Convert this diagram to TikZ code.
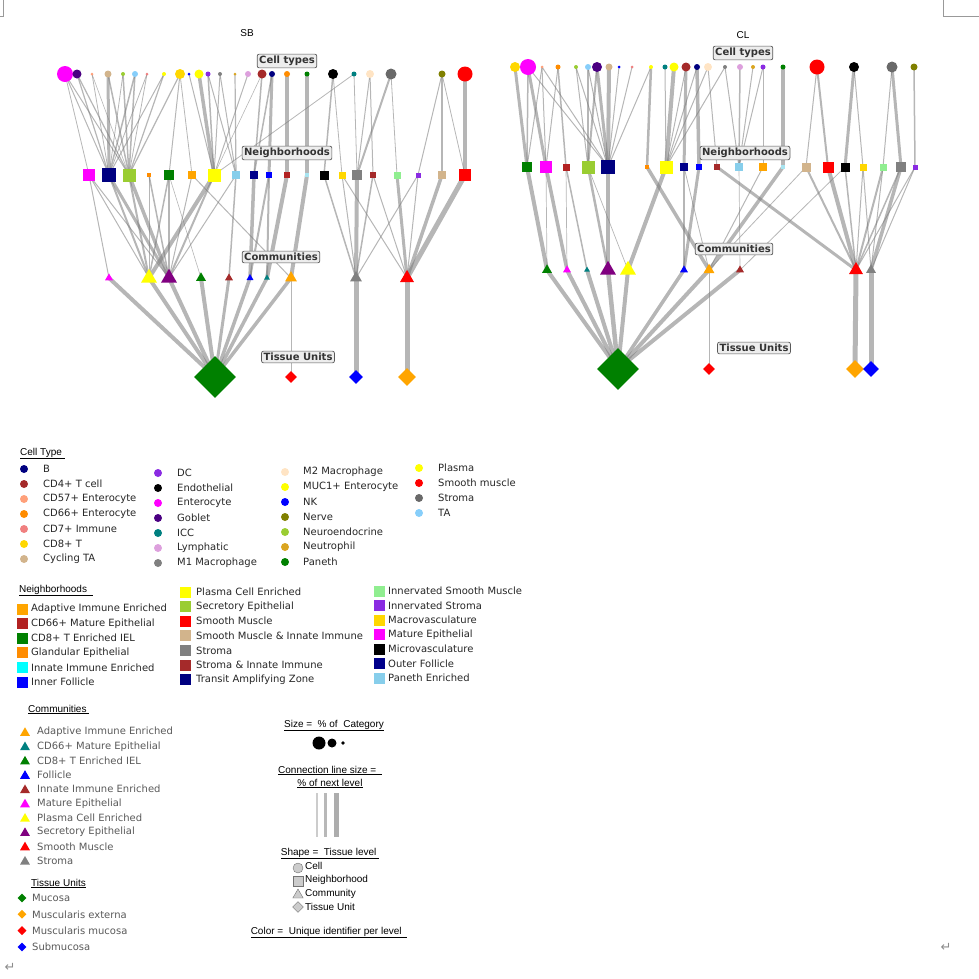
\documentclass[tikz,border=0pt]{standalone}
\usepackage{fontspec}
\setmainfont{DejaVu Sans}
\newfontfamily\headfont{Liberation Sans}
\usetikzlibrary{shapes.geometric,backgrounds}

\definecolor{Navy}{HTML}{000080}
\definecolor{Indigo}{HTML}{4B0082}
\definecolor{LightSalmon}{HTML}{FFA07A}
\definecolor{Tan}{HTML}{D2B48C}
\definecolor{YellowGreen}{HTML}{9ACD32}
\definecolor{LightSkyBlue}{HTML}{87CEFA}
\definecolor{LightCoral}{HTML}{F08080}
\definecolor{Gold}{HTML}{FFD700}
\definecolor{Yellow}{HTML}{FFFF00}
\definecolor{Blue}{HTML}{0000FF}
\definecolor{BlueViolet}{HTML}{8A2BE2}
\definecolor{Gray}{HTML}{808080}
\definecolor{GoldRod}{HTML}{DAA520}
\definecolor{Plum}{HTML}{DDA0DD}
\definecolor{Brown}{HTML}{A52A2A}
\definecolor{DarkOrange}{HTML}{FF8C00}
\definecolor{Green}{HTML}{008000}
\definecolor{Black}{HTML}{000000}
\definecolor{Teal}{HTML}{008080}
\definecolor{Bisque}{HTML}{FFE4C4}
\definecolor{DimGray}{HTML}{696969}
\definecolor{Olive}{HTML}{808000}
\definecolor{Red}{HTML}{FF0000}
\definecolor{Magenta}{HTML}{FF00FF}
\definecolor{Orange}{HTML}{FFA500}
\definecolor{SkyBlue}{HTML}{87CEEB}
\definecolor{DarkBlue}{HTML}{00008B}
\definecolor{FireBrick}{HTML}{B22222}
\definecolor{Cyan}{HTML}{00FFFF}
\definecolor{PaleCyan}{HTML}{A8E4F0}
\definecolor{LightGreen}{HTML}{90EE90}
\definecolor{Purple}{HTML}{800080}

\begin{document}
\begin{tikzpicture}[
  x=1pt, y=-1pt,
  font=\fontsize{10}{12}\selectfont,
  cellnode/.style={circle, inner sep=0pt, minimum size={2*#1 pt}},
  hoodnode/.style={rectangle, inner sep=0pt, minimum size={2*#1 pt}},
  commnode/.style={regular polygon, regular polygon sides=3, inner sep=0pt, minimum size={2.3*#1 pt}},
  unitnode/.style={diamond, inner sep=0pt, minimum size={2*#1 pt}},
  link/.style={draw=black!52, opacity=0.55},
  lvlbox/.style={draw=black!65, fill=black!7, rounded corners=2pt, line width=0.7pt,
    font=\fontsize{10}{12}\selectfont\bfseries, text=black!80, inner sep=2pt},
  headtxt/.style={font=\headfont\fontsize{10}{12}\selectfont, inner sep=0pt},
  legtxt/.style={anchor=west, inner sep=0pt, text=black!85},
  legdot/.style={circle, inner sep=0pt, minimum size=8pt},
  legbox/.style={rectangle, inner sep=0pt, minimum size=11pt},
  shapekey/.style={fill=black!20, draw=black!55, inner sep=0pt}
]
  \useasboundingbox (0,0) rectangle (979,978);

  % page marks
  \draw[black!40] (3,0) -- (3,16) -- (0,16);
  \draw[black!40] (943,0) -- (943,16) -- (979,16);
  \node[text=black!45, font=\fontsize{13}{14}\selectfont] (mark-l) at (10,967) {↵};
  \node[text=black!45, font=\fontsize{13}{14}\selectfont] (mark-r) at (946,947) {↵};

  % ---------------- SB tree ----------------
  \node[headtxt] (sb-title) at (247,33) {SB};
  \foreach \n/\x/\r/\c in {ent/65/8/Magenta, gob/77/4.5/Indigo, c57/92/1.5/LightSalmon,
      cyc/108/3.5/Tan, neu/123/2/YellowGreen, ta/135/3/LightSkyBlue, c7/147/1.5/LightCoral,
      muc/164/2/Yellow, cd8/180/5/Gold, nk/189/1.5/Blue, pla/199/4.5/Yellow,
      dc/208/2.5/BlueViolet, m1/220/2/Gray, nph/235/1.5/GoldRod, lym/248/3/Plum,
      cd4/262/4.5/Brown, b/272/3/Navy, c66/287/3/DarkOrange, pan/307/2.5/Green,
      endo/333/5/Black, icc/354/2.5/Teal, m2/370/4/Bisque, str/391/5.5/DimGray,
      nrv/442/3.5/Olive, smc/465/7.5/Red}
    \node[cellnode=\r, fill=\c] (sbc-\n) at (\x,74) {};
  \foreach \n/\x/\r/\c in {mat/89/6/Magenta, taz/109/7/Navy, sec/129/6.5/YellowGreen,
      gla/149/2/DarkOrange, iel/169/5/Green, adp/192/4/Orange, pce/214/6.5/Yellow,
      pen/236/4/SkyBlue, of/254/4/DarkBlue, if/269/3/Blue, c66/287/3/FireBrick,
      inn/307/2/PaleCyan, mic/324/4.5/Black, mac/342/3.5/Gold, str/357/5/Gray,
      sii/373/3/Brown, ism/397/3.5/LightGreen, ist/418/2.5/BlueViolet, smi/442/4/Tan,
      sm/465/6/Red}
    \node[hoodnode=\r, fill=\c] (sbn-\n) at (\x,175) {};
  \foreach \n/\x/\r/\c in {mat/109/4/Magenta, pce/149/8/Yellow, sec/169/8/Purple,
      iel/201/5/Green, inn/229/4/Brown, fol/250/3.5/Blue, c66/267/3/Teal,
      adp/291/6/Orange, str/356/6/Gray, sm/407/7/Red}
    \node[commnode=\r, fill=\c] (sbm-\n) at (\x,278) {};
  \foreach \n/\x/\r/\c in {muc/215/21/Green, mm/291/6/Red, sub/356/7/Blue, me/407/9/Orange}
    \node[unitnode=\r, fill=\c] (sbu-\n) at (\x,377) {};

  \node[lvlbox] (sb-lvl1) at (287,61) {Cell types};
  \node[lvlbox] (sb-lvl2) at (287,153) {Neighborhoods};
  \node[lvlbox] (sb-lvl3) at (281,257) {Communities};
  \node[lvlbox] (sb-lvl4) at (298,357) {Tissue Units};

  \begin{scope}[on background layer]
    \foreach \a/\b/\w in {ent/mat/0.8, ent/taz/1, ent/sec/1, gob/taz/1.2, gob/sec/1.2,
        c57/taz/0.8, c57/sec/0.6, cyc/taz/3, cyc/sec/1.5, neu/sec/1.5, neu/taz/0.8,
        ta/taz/1.5, ta/sec/1.5, c7/taz/0.8, c7/sec/0.8, muc/taz/1, muc/sec/1.2,
        cd8/sec/1.2, cd8/iel/1, cd8/adp/0.8, nk/pce/1, pla/pce/3.5, dc/pce/1.5,
        dc/pen/1, m1/pce/1, m1/pen/1, nph/pen/1.2, lym/pce/1, icc/pce/0.8,
        cd4/of/1.5, cd4/pce/0.6, b/if/3, b/of/1.5, c66/c66/4, pan/inn/4.5,
        endo/mic/1.5, endo/mac/0.8, icc/str/0.8, m2/str/1, m2/sii/1, str/str/2,
        str/ism/0.8, nrv/ist/1, nrv/smi/1.2, nrv/sm/0.8, smc/sm/4}
      \draw[link, line width=\w pt] (sbc-\a.center) -- (sbn-\b.center);
    \foreach \a/\b/\w in {mat/mat/1, mat/pce/1, mat/sec/1, taz/pce/2, taz/sec/3,
        sec/sec/3.5, sec/pce/2, gla/pce/1, gla/sec/1.5, iel/pce/1.5, iel/sec/1.5,
        iel/iel/0.6, adp/sec/1, adp/adp/1, pce/pce/4, pce/sec/2, pen/sec/1,
        pen/inn/1.5, of/fol/3.5, if/fol/2, if/c66/2, c66/c66/4, inn/adp/4,
        mic/str/1.5, mac/str/1, mac/sm/1, str/str/4, sii/str/1.5, sii/sm/1,
        ism/sm/3, ist/str/1, ist/sm/1, smi/sm/3.5, sm/sm/5}
      \draw[link, line width=\w pt] (sbn-\a.center) -- (sbm-\b.center);
    \foreach \a/\b/\w in {mat/muc/4, pce/muc/4, sec/muc/4, iel/muc/4, inn/muc/3,
        fol/muc/3.5, c66/muc/3.5, adp/muc/3.5, adp/mm/0.7, str/sub/5, sm/me/5}
      \draw[link, line width=\w pt] (sbm-\a.center) -- (sbu-\b.center);
  \end{scope}

  % ---------------- CL tree ----------------
  \node[headtxt] (cl-title) at (743,35) {CL};
  \foreach \n/\x/\r/\c in {cd8/515/5/Gold, ent/528/8/Magenta, c57/542/1.5/LightSalmon,
      c66/558/2.5/DarkOrange, neu/576/2/YellowGreen, ta/588/3/LightSkyBlue,
      gob/597/5/Indigo, cyc/609/3.5/Tan, nk/619/1.5/Blue, c7/632/1.5/LightCoral,
      muc/651/2/Yellow, icc/665/2.5/Teal, pla/674/4.5/Yellow, cd4/686/4.5/Brown,
      b/697/3/Navy, m2/708/4/Bisque, m1/725/2/Gray, lym/740/3/Plum,
      nph/753/2/GoldRod, dc/763/2.5/BlueViolet, pan/783/2.5/Green,
      smc/817/7.5/Red, endo/854/5/Black, str/892/5.5/DimGray, nrv/914/3.5/Olive}
    \node[cellnode=\r, fill=\c] (clc-\n) at (\x,67) {};
  \foreach \n/\x/\r/\c in {iel/527/5/Green, mat/546/6/Magenta, c66/566/3.5/FireBrick,
      sec/588/6.5/YellowGreen, taz/608/7/Navy, gla/647/2/DarkOrange, pce/666/6.5/Yellow,
      of/684/4/DarkBlue, if/699/3/Blue, sii/717/3/Brown, pen/739/4/SkyBlue,
      adp/763/4/Orange, inn/783/2/PaleCyan, smi/806/4.5/Tan, sm/828/5.5/Red,
      mic/845/4.5/Black, mac/863/3.5/Gold, ism/883/3.5/LightGreen, str/901/5/Gray,
      ist/915/2.5/BlueViolet}
    \node[hoodnode=\r, fill=\c] (cln-\n) at (\x,167) {};
  \foreach \n/\x/\r/\c in {iel/547/5/Green, mat/567/4/Magenta, c66/587/3/Teal,
      sec/608/8/Purple, pce/628/8/Yellow, fol/684/4/Blue, adp/709/5.5/Orange,
      inn/740/4/Brown, sm/856/7/Red, str/871/5/Gray}
    \node[commnode=\r, fill=\c] (clm-\n) at (\x,270) {};
  \foreach \n/\x/\r/\c in {muc/618/21/Green, mm/709/6/Red, me/855/9/Orange, sub/871/8/Blue}
    \node[unitnode=\r, fill=\c] (clu-\n) at (\x,369) {};

  \node[lvlbox] (cl-lvl1) at (743,53) {Cell types};
  \node[lvlbox] (cl-lvl2) at (745,153) {Neighborhoods};
  \node[lvlbox] (cl-lvl3) at (734,249) {Communities};
  \node[lvlbox] (cl-lvl4) at (754,348) {Tissue Units};

  \begin{scope}[on background layer]
    \foreach \a/\b/\w in {cd8/iel/3, ent/iel/1.5, ent/mat/3, ent/taz/1, c57/iel/1,
        c57/mat/1, c57/taz/1, c66/c66/1.5, c66/mat/1, neu/taz/1, neu/sec/1,
        ta/sec/2.5, ta/taz/1, gob/sec/2, gob/taz/3, cyc/taz/4, nk/taz/1, c7/taz/1,
        muc/taz/1, muc/gla/2.5, icc/pce/1, pla/pce/4, cd4/of/3, cd4/pce/1,
        b/if/3.5, b/pce/1, m2/pce/1, m2/sii/1, m1/pce/1, m1/pen/1, lym/pen/1.5,
        nph/pen/1, dc/pen/1, dc/adp/1, pan/inn/4.5, smc/smi/1, smc/sm/2,
        endo/mic/3, endo/mac/1, str/ism/1, str/str/3, nrv/ist/1.5}
      \draw[link, line width=\w pt] (clc-\a.center) -- (cln-\b.center);
    \foreach \a/\b/\w in {iel/iel/4, mat/mat/3.5, mat/iel/0.7, c66/mat/0.7,
        c66/c66/1.5, sec/sec/2.5, sec/pce/0.7, taz/sec/3.5, gla/adp/3.5, pce/pce/4,
        of/fol/1.5, of/adp/0.8, if/fol/3, sii/sm/3, pen/inn/0.7, adp/adp/1,
        inn/adp/3.5, smi/adp/0.8, smi/sm/2, sm/sm/4, mic/inn/0.8, mic/sm/1.5,
        mac/sm/1, mac/str/1, ism/sm/2, ism/str/1, str/str/3.5, str/sm/1.5,
        ist/str/1, ist/sm/1}
      \draw[link, line width=\w pt] (cln-\a.center) -- (clm-\b.center);
    \foreach \a/\b/\w in {iel/muc/4, mat/muc/4, c66/muc/4, sec/muc/4.5, pce/muc/4,
        fol/muc/3.5, adp/muc/4, inn/muc/4, adp/mm/0.7, sm/me/5, str/sub/5}
      \draw[link, line width=\w pt] (clm-\a.center) -- (clu-\b.center);
  \end{scope}

  % ---------------- Cell type legend ----------------
  \node[headtxt, anchor=base west] (ct-head) at (20,455) {\underline{Cell Type\ }};
  \foreach \lbl/\c [count=\i] in {B/Navy, CD4+ T cell/Brown, CD57+ Enterocyte/LightSalmon,
      CD66+ Enterocyte/DarkOrange, CD7+ Immune/LightCoral, CD8+ T/Gold, Cycling TA/Tan}{
    \node[legdot, fill=\c] (ct-a\i) at (24,{469+15*(\i-1)}) {};
    \node[legtxt] (ct-at\i) at (43,{469+15*(\i-1)}) {\lbl};
  }
  \foreach \lbl/\c [count=\i] in {DC/BlueViolet, Endothelial/Black, Enterocyte/Magenta,
      Goblet/Indigo, ICC/Teal, Lymphatic/Plum, M1 Macrophage/Gray}{
    \node[legdot, fill=\c] (ct-b\i) at (158,{473+15*(\i-1)}) {};
    \node[legtxt] (ct-bt\i) at (177,{473+15*(\i-1)}) {\lbl};
  }
  \foreach \lbl/\c [count=\i] in {M2 Macrophage/Bisque, MUC1+ Enterocyte/Yellow, NK/Blue,
      Nerve/Olive, Neuroendocrine/YellowGreen, Neutrophil/GoldRod, Paneth/Green}{
    \node[legdot, fill=\c] (ct-c\i) at (285,{472+15*(\i-1)}) {};
    \node[legtxt] (ct-ct\i) at (303,{472+15*(\i-1)}) {\lbl};
  }
  \foreach \lbl/\c [count=\i] in {Plasma/Yellow, Smooth muscle/Red, Stroma/DimGray,
      TA/LightSkyBlue}{
    \node[legdot, fill=\c] (ct-d\i) at (419,{468+15*(\i-1)}) {};
    \node[legtxt] (ct-dt\i) at (438,{468+15*(\i-1)}) {\lbl};
  }

  % ---------------- Neighborhood legend ----------------
  \node[headtxt, anchor=base west] (nb-head) at (19,592) {\underline{Neighborhoods\ \ }};
  \foreach \lbl/\c [count=\i] in {Adaptive Immune Enriched/Orange,
      CD66+ Mature Epithelial/FireBrick, CD8+ T Enriched IEL/Green,
      Glandular Epithelial/DarkOrange, Innate Immune Enriched/Cyan, Inner Follicle/Blue}{
    \node[legbox, fill=\c] (nb-a\i) at (22.5,{609+14.6*(\i-1)}) {};
    \node[legtxt] (nb-at\i) at (31,{609+14.6*(\i-1)}) {\lbl};
  }
  \foreach \lbl/\c [count=\i] in {Plasma Cell Enriched/Yellow,
      Secretory Epithelial/YellowGreen, Smooth Muscle/Red,
      Smooth Muscle \& Innate Immune/Tan, Stroma/Gray, Stroma \& Innate Immune/Brown,
      Transit Amplifying Zone/Navy}{
    \node[legbox, fill=\c] (nb-b\i) at (185.5,{592+14.6*(\i-1)}) {};
    \node[legtxt] (nb-bt\i) at (196,{592+14.6*(\i-1)}) {\lbl};
  }
  \foreach \lbl/\c [count=\i] in {Innervated Smooth Muscle/LightGreen,
      Innervated Stroma/BlueViolet, Macrovasculature/Gold, Mature Epithelial/Magenta,
      Microvasculature/Black, Outer Follicle/DarkBlue, Paneth Enriched/SkyBlue}{
    \node[legbox, fill=\c] (nb-c\i) at (379.5,{591+14.5*(\i-1)}) {};
    \node[legtxt] (nb-ct\i) at (388,{591+14.5*(\i-1)}) {\lbl};
  }

  % ---------------- Community and tissue unit legend ----------------
  \node[headtxt, anchor=base west] (cm-head) at (28,712) {\underline{Communities\ }};
  \foreach \lbl/\c [count=\i] in {Adaptive Immune Enriched/Orange,
      CD66+ Mature Epithelial/Teal, CD8+ T Enriched IEL/Green, Follicle/Blue,
      Innate Immune Enriched/Brown, Mature Epithelial/Magenta,
      Plasma Cell Enriched/Yellow, Secretory Epithelial/Purple, Smooth Muscle/Red,
      Stroma/Gray}{
    \node[commnode=5, fill=\c] (cm-\i) at (25,{733+14.3*(\i-1)}) {};
    \node[legtxt, text=black!65] (cm-t\i) at (37,{732+14.3*(\i-1)}) {\lbl};
  }
  \node[headtxt, anchor=base west] (tu-head) at (31,886) {\underline{Tissue Units}};
  \foreach \lbl/\c [count=\i] in {Mucosa/Green, Muscularis externa/Orange,
      Muscularis mucosa/Red, Submucosa/Blue}{
    \node[unitnode=4.5, fill=\c] (tu-\i) at (22,{898+16.3*(\i-1)}) {};
    \node[legtxt, text=black!65] (tu-t\i) at (32,{898+16.3*(\i-1)}) {\lbl};
  }

  % ---------------- Key ----------------
  \node[headtxt, anchor=base] (key-size) at (334,727) {\underline{Size =~~\% of~~Category}};
  \node[cellnode=6.5, fill=black] (key-d1) at (319,743) {};
  \node[cellnode=4.5, fill=black] (key-d2) at (332,743) {};
  \node[cellnode=1.8, fill=black] (key-d3) at (343,743) {};
  \node[headtxt, anchor=base] (key-line) at (330,773) {\underline{Connection line size =~~}};
  \node[headtxt, anchor=base] (key-line2) at (330,786) {\underline{\% of next level}};
  \coordinate (kl1a) at (317,793); \coordinate (kl1b) at (317,837);
  \coordinate (kl2a) at (325,793); \coordinate (kl2b) at (325,837);
  \coordinate (kl3a) at (336,793); \coordinate (kl3b) at (336,837);
  \draw[draw=black!20, line width=2pt] (kl1a) -- (kl1b);
  \draw[draw=black!28, line width=3pt] (kl2a) -- (kl2b);
  \draw[draw=black!32, line width=5pt] (kl3a) -- (kl3b);
  \node[headtxt, anchor=base] (key-shape) at (330,855) {\underline{Shape =~~Tissue level~}};
  \node[shapekey, circle, minimum size=10pt] (ks-1) at (298,868) {};
  \node[shapekey, rectangle, minimum size=10pt] (ks-2) at (298,881) {};
  \node[shapekey, regular polygon, regular polygon sides=3, minimum size=12pt] (ks-3) at (298,895) {};
  \node[shapekey, diamond, minimum size=11pt] (ks-4) at (298,907) {};
  \node[headtxt, anchor=west] (ks-t1) at (305,866) {Cell};
  \node[headtxt, anchor=west] (ks-t2) at (305,880) {Neighborhood};
  \node[headtxt, anchor=west] (ks-t3) at (305,894) {Community};
  \node[headtxt, anchor=west] (ks-t4) at (305,907) {Tissue Unit};
  \node[headtxt, anchor=base] (key-color) at (329,934) {\underline{Color =~~Unique identifier per level~~}};
\end{tikzpicture}
\end{document}
